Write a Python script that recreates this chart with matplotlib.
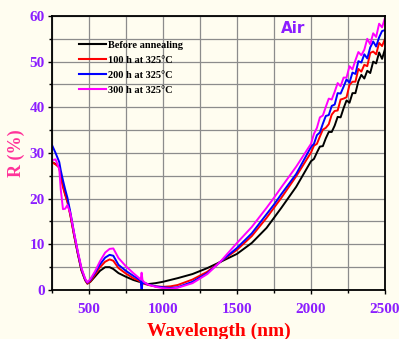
import matplotlib.pyplot as plt
from matplotlib.ticker import MultipleLocator

# wavelength grid (nm) shared by all four spectra
wl = [250, 275, 300, 310, 325, 340, 355, 375, 400, 425, 450, 475, 490, 510, 540,
      575, 610, 640, 665, 700, 750, 800, 840, 850, 856, 862, 870, 900, 950, 1000,
      1050, 1100, 1200, 1300, 1385, 1500, 1600, 1700, 1750, 1800, 1900,
      2000, 2020, 2040, 2060, 2080, 2100, 2120, 2140, 2160, 2180, 2200, 2220, 2240,
      2260, 2280, 2300, 2320, 2340, 2360, 2380, 2400, 2420, 2440, 2460, 2480, 2500]

r_before = [28.0, 27.6, 27.0, 25.0, 23.0, 21.0, 19.5, 16.5, 12.0, 8.0, 4.3, 2.2, 1.4, 1.8, 2.9,
            4.2, 5.0, 5.0, 4.6, 3.7, 2.9, 2.2, 1.8, 1.8, 1.8, 1.7, 1.5, 1.3, 1.5, 1.8,
            2.2, 2.6, 3.5, 4.8, 6.1, 7.9, 10.3, 13.6, 15.8, 18.0, 22.6,
            28.2, 28.7, 30.1, 31.4, 31.5, 33.2, 34.6, 34.6, 36.0, 37.9, 37.8, 39.8, 41.5,
            41.0, 43.1, 43.1, 45.7, 47.1, 46.3, 48.0, 47.5, 50.0, 49.6, 52.0, 50.6, 52.8]

r_100h = [28.0, 27.5, 26.8, 24.8, 22.5, 20.8, 19.3, 16.3, 12.0, 8.0, 4.3, 2.1, 1.4, 1.9, 3.3,
          5.0, 6.2, 6.7, 6.4, 4.8, 3.6, 2.6, 2.0, 1.8, 1.7, 1.6, 1.4, 1.1, 0.8, 0.7,
          0.8, 1.1, 2.3, 4.0, 6.1, 8.8, 11.8, 15.8, 18.0, 20.2, 24.9,
          30.1, 31.6, 32.0, 33.6, 35.1, 35.5, 36.3, 38.4, 39.2, 39.3, 41.7, 41.9, 42.2,
          44.9, 45.6, 45.6, 48.4, 47.8, 49.3, 49.0, 51.9, 52.2, 51.6, 54.1, 53.4, 55.0]

r_200h = [31.8, 30.0, 28.0, 26.2, 24.0, 22.0, 20.2, 17.0, 12.5, 8.3, 4.6, 2.3, 1.6, 2.2, 3.7,
          5.6, 7.1, 7.7, 7.5, 5.5, 4.2, 3.1, 2.3, 2.0, -0.5, 1.9, 1.6, 1.2, 0.8, 0.6,
          0.45, 0.6, 1.8, 3.7, 6.1, 9.2, 12.4, 16.6, 18.7, 21.0, 25.4,
          31.3, 32.0, 33.9, 34.5, 36.4, 38.1, 38.3, 40.3, 40.6, 43.1, 43.0, 44.5, 46.1,
          45.4, 47.6, 47.3, 50.1, 49.8, 51.6, 50.7, 53.1, 54.4, 53.3, 55.3, 56.7, 56.9]

r_300h = [28.4, 28.6, 26.5, 22.0, 17.7, 17.8, 18.6, 16.8, 12.5, 8.5, 4.8, 2.5, 1.7, 2.4, 4.0,
          6.3, 8.2, 9.0, 9.1, 7.0, 5.2, 3.7, 2.6, 2.3, 3.8, 2.2, 1.8, 1.2, 0.7, 0.4,
          0.3, 0.5, 1.5, 3.5, 6.1, 10.3, 13.8, 18.0, 20.2, 22.5, 27.0,
          32.0, 34.2, 35.5, 37.8, 38.2, 40.1, 41.9, 41.7, 43.4, 45.3, 44.6, 46.5, 46.5,
          49.0, 48.3, 50.3, 52.1, 51.4, 52.6, 55.0, 53.8, 56.2, 55.4, 58.3, 57.5, 59.6]

labels = ['Before annealing', '100 h at 325°C', '200 h at 325°C', '300 h at 325°C']
colors = ['black', '#ff0000', '#0000ff', '#ff00ff']

bg = '#fffdf0'
purple = '#8b1eff'

fig = plt.figure(figsize=(3.99, 3.39), dpi=100, facecolor=bg)
ax = fig.add_axes([0.130, 0.1445, 0.835, 0.8085], facecolor=bg)

for r, lab, c in zip([r_before, r_100h, r_200h, r_300h], labels, colors):
    ax.plot(wl, r, color=c, lw=1.4, label=lab)

ax.set_xlim(250, 2500)
ax.set_ylim(0, 60)
ax.xaxis.set_major_locator(MultipleLocator(500))
ax.xaxis.set_minor_locator(MultipleLocator(250))
ax.yaxis.set_major_locator(MultipleLocator(10))
ax.yaxis.set_minor_locator(MultipleLocator(5))
ax.grid(True, which='both', color='#8c8c8c', lw=0.9)
ax.set_axisbelow(True)

for s in ax.spines.values():
    s.set_linewidth(1.3)
ax.tick_params(which='major', direction='out', length=3, width=1, pad=2)
ax.tick_params(which='minor', direction='out', length=2, width=1)
ax.tick_params(axis='x', which='major', pad=6)
for t in ax.get_xticklabels() + ax.get_yticklabels():
    t.set_fontfamily('Liberation Serif')
    t.set_fontweight('bold')
    t.set_fontsize(11)
    t.set_color(purple)

ax.set_xlabel('Wavelength (nm)', family='Liberation Serif', weight='bold',
              fontsize=14, color='#ff0000', labelpad=5)
ax.set_ylabel('R (%)', family='Liberation Serif', weight='bold',
              fontsize=13, color='#ff3399', labelpad=3)

ax.text(0.724, 0.953, 'Air', transform=ax.transAxes, ha='center', va='center',
        family='DejaVu Sans', weight='bold', fontsize=11, color=purple)

leg = ax.legend(loc='upper left', bbox_to_anchor=(0.066, 0.93), frameon=False,
                prop={'family': 'Liberation Serif', 'weight': 'bold', 'size': 7.5},
                handlelength=2.6, handletextpad=0.2, labelspacing=0.55, borderpad=0)
for h in leg.get_lines():
    h.set_linewidth(1.5)

fig.savefig('out.png', dpi=100, facecolor=bg)
